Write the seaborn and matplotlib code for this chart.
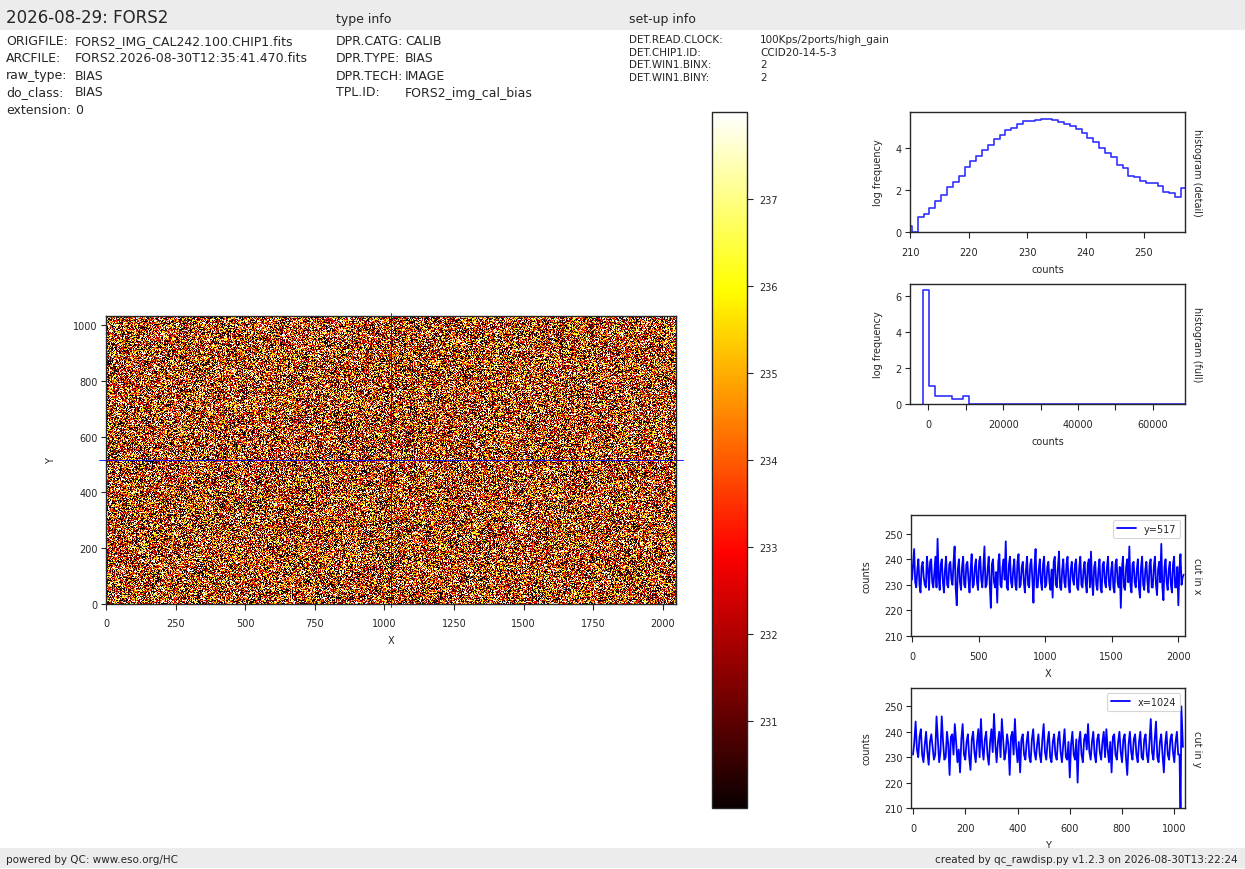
import numpy as np
import pandas as pd
import matplotlib
matplotlib.use("Agg")
import matplotlib.pyplot as plt
from matplotlib.patches import Rectangle
import seaborn as sns

# ---------------- header / footer text ----------------
title = "2026-08-29: FORS2"
file_keys = ["ORIGFILE:", "ARCFILE:", "raw_type:", "do_class:", "extension:"]
file_vals = ["FORS2_IMG_CAL242.100.CHIP1.fits", "FORS2.2026-08-30T12:35:41.470.fits",
             "BIAS", "BIAS", "0"]
type_title = "type info"
type_keys = ["DPR.CATG:", "DPR.TYPE:", "DPR.TECH:", "TPL.ID:"]
type_vals = ["CALIB", "BIAS", "IMAGE", "FORS2_img_cal_bias"]
setup_title = "set-up info"
setup_keys = ["DET.READ.CLOCK:", "DET.CHIP1.ID:", "DET.WIN1.BINX:", "DET.WIN1.BINY:"]
setup_vals = ["100Kps/2ports/high_gain", "CCID20-14-5-3", "2", "2"]
footer_left = "powered by QC: www.eso.org/HC"
footer_right = "created by qc_rawdisp.py v1.2.3 on 2026-08-30T13:22:24"

# ---------------- image geometry ----------------
n_x, n_y = 2048, 1034
cut_row, cut_col = 517, 1024
clim = (230, 238)
cbar_ticks = [231, 232, 233, 234, 235, 236, 237]

# ---------------- histogram (detail): log10 frequency per 1-count bin ----------------
detail_first_edge = 209.32
detail_logfreq = [0.30, 0.00, 0.70, 0.85, 1.13, 1.49, 1.74, 2.12, 2.38, 2.65,
                  3.06, 3.34, 3.62, 3.86, 4.14, 4.42, 4.60, 4.82, 4.94, 5.11,
                  5.25, 5.27, 5.32, 5.36, 5.33, 5.30, 5.22, 5.13, 5.04, 4.86,
                  4.71, 4.47, 4.28, 4.00, 3.76, 3.53, 3.17, 3.03, 2.64, 2.59,
                  2.40, 2.31, 2.31, 2.18, 1.91, 1.84, 1.65, 2.07]

# ---------------- histogram (full): 44 bins from -1345 to 65535 ----------------
full_first_edge, full_last_edge = -1345, 65535
full_logfreq = [6.33, 1.00, 0.45, 0.45, 0.45, 0.28, 0.28, 0.45] + [0.0] * 36

# ---------------- cut along row y=517: samples at X = 0,16,32,... and 8,24,40,... ----------------
cut_x_step = 16
cut_x_vals = [232, 244, 229, 240, 227, 239, 230, 241, 228, 240, 229, 241, 248, 228, 240, 227,
              241, 229, 239, 230, 245, 222, 240, 228, 241, 229, 239, 227, 242, 230, 240, 228,
              241, 229, 245, 230, 241, 221, 240, 229, 223, 242, 229, 240, 247, 228, 241, 229,
              240, 228, 242, 230, 239, 227, 241, 229, 240, 223, 244, 229, 240, 228, 241, 230,
              239, 228, 225, 241, 229, 243, 228, 240, 229, 241, 227, 239, 230, 240, 228, 241,
              229, 239, 227, 240, 243, 226, 239, 228, 240, 227, 239, 229, 241, 228, 239, 227,
              240, 229, 221, 241, 228, 240, 245, 227, 239, 229, 240, 225, 241, 228, 239, 227,
              240, 229, 241, 226, 239, 246, 224, 240, 228, 239, 227, 241, 229, 222, 242, 233]
cut_x_mid_vals = [238, 231, 236, 230, 237, 233, 229, 236, 239, 231, 235, 229, 233, 238, 231, 236,
                  230, 238, 232, 239, 229, 236, 231, 237, 230, 238, 232, 236, 229, 237, 231, 239,
                  232, 237, 229, 236, 230, 238, 231, 235, 239, 230, 237, 232, 229, 238, 231, 236,
                  230, 239, 229, 237, 231, 236, 230, 238, 232, 237, 229, 236, 231, 238, 229, 237,
                  231, 236, 239, 230, 237, 229, 236, 231, 238, 230, 236, 232, 238, 229, 237, 230,
                  236, 231, 238, 229, 231, 237, 230, 236, 229, 238, 231, 237, 230, 236, 229, 238,
                  231, 237, 236, 229, 237, 231, 230, 238, 231, 236, 229, 237, 230, 236, 231, 238,
                  229, 237, 230, 236, 231, 229, 237, 231, 236, 230, 238, 229, 237, 236, 230, 234]

# ---------------- cut along column x=1024: samples at Y = 0,10,... and 5,15,... + last rows ----------------
cut_y_step = 10
cut_y_vals = [231, 244, 230, 241, 228, 240, 227, 239, 229, 246, 228, 246, 229, 240, 223, 239,
              243, 228, 224, 243, 229, 239, 225, 240, 228, 241, 245, 229, 240, 227, 241, 247,
              228, 240, 245, 229, 239, 223, 240, 245, 228, 224, 239, 229, 240, 228, 241, 229,
              239, 228, 243, 229, 240, 228, 239, 229, 240, 228, 241, 229, 222, 240, 229, 220,
              240, 228, 239, 243, 229, 240, 228, 239, 229, 240, 241, 228, 224, 239, 229, 240,
              228, 239, 223, 240, 229, 239, 228, 240, 229, 239, 228, 245, 229, 244, 228, 239,
              224, 240, 229, 239, 228, 240, 231]
cut_y_mid_vals = [236, 233, 238, 231, 235, 232, 236, 234, 231, 237, 232, 236, 230, 235, 238, 231,
                  236, 233, 237, 231, 236, 230, 237, 232, 236, 230, 234, 237, 231, 236, 232, 235,
                  236, 230, 237, 232, 235, 238, 231, 234, 236, 237, 231, 236, 230, 237, 232, 235,
                  231, 237, 232, 236, 230, 236, 231, 237, 232, 235, 230, 236, 235, 231, 237, 236,
                  231, 237, 233, 232, 236, 231, 237, 232, 236, 230, 233, 236, 238, 231, 236, 232,
                  237, 230, 235, 232, 237, 231, 236, 230, 237, 231, 236, 232, 237, 230, 236, 231,
                  235, 231, 237, 232, 236, 231]
cut_y_tail_pos = [1024, 1027, 1033]
cut_y_tail_vals = [205, 250, 234]

# ---------------- style ----------------
sns.set_theme(style="ticks", context="paper")
plt.rcParams.update({
    "font.family": ["DejaVu Sans"],
    "axes.labelsize": 7, "xtick.labelsize": 7, "ytick.labelsize": 7,
    "legend.fontsize": 7,
    "xtick.major.size": 4, "ytick.major.size": 3.5,
    "xtick.major.width": 0.8, "ytick.major.width": 0.8,
    "xtick.major.pad": 6.5, "ytick.major.pad": 2.5,
    "axes.linewidth": 1.0,
    "axes.edgecolor": "0.15",
})

W, H = 1245, 870
fig = plt.figure(figsize=(W / 100, H / 100), dpi=100)


def box(l, t, r, b):
    return [l / W, 1 - b / H, (r - l) / W, (b - t) / H]


# bands
fig.patches.append(Rectangle((0, 1 - 31 / H), 1, 31 / H, transform=fig.transFigure,
                             facecolor="#ececec", edgecolor="none", zorder=0))
fig.patches.append(Rectangle((0, 1 - 869 / H), 1, 20 / H, transform=fig.transFigure,
                             facecolor="#ececec", edgecolor="none", zorder=0))

# header text
fig.text(6 / W, 1 - 18 / H, title, fontsize=12, va="center", ha="left")
fig.text(336 / W, 1 - 19 / H, type_title, fontsize=9, va="center", ha="left")
fig.text(629 / W, 1 - 19 / H, setup_title, fontsize=9, va="center", ha="left")
row_y = [41.5, 58.5, 76, 93, 110]
for k, v, y in zip(file_keys, file_vals, row_y):
    fig.text(6 / W, 1 - y / H, k, fontsize=9, va="center")
    fig.text(75 / W, 1 - y / H, v, fontsize=9, va="center")
for k, v, y in zip(type_keys, type_vals, row_y):
    fig.text(336 / W, 1 - y / H, k, fontsize=9, va="center")
    fig.text(405 / W, 1 - y / H, v, fontsize=9, va="center")
setup_y = [40, 52.5, 65, 78]
for k, v, y in zip(setup_keys, setup_vals, setup_y):
    fig.text(629 / W, 1 - y / H, k, fontsize=7.5, va="center")
    fig.text(760 / W, 1 - y / H, v, fontsize=7.5, va="center")
fig.text(6 / W, 1 - 860 / H, footer_left, fontsize=7.5, va="center", ha="left")
fig.text(1238 / W, 1 - 860 / H, footer_right, fontsize=7.5, va="center", ha="right")

# ---------------- image (pixel texture drawn from the read detail histogram) ----------------
levels = np.ceil(detail_first_edge + np.arange(len(detail_logfreq)))
weights = np.power(10.0, detail_logfreq)
weights[np.array(detail_logfreq) == 0] = 0
rng = np.random.default_rng(3)
img = rng.choice(levels, size=(n_y, n_x), p=weights / weights.sum())

ax_img = fig.add_axes(box(106, 317, 676, 605))
im = ax_img.imshow(img, cmap="hot", vmin=clim[0], vmax=clim[1], origin="lower",
                   extent=(-0.5, n_x - 0.5, -0.5, n_y - 0.5), interpolation="nearest",
                   aspect="equal")
ext = 0.012
ax_img.plot([-ext * n_x, (1 + ext) * n_x], [cut_row, cut_row], color="blue", lw=0.6, clip_on=False)
ax_img.plot([cut_col, cut_col], [-ext * n_y, (1 + ext) * n_y], color="blue", lw=0.6, clip_on=False)
ax_img.set_xlim(-0.5, n_x - 0.5)
ax_img.set_ylim(-0.5, n_y - 0.5)
ax_img.set_xticks(range(0, 2001, 250))
ax_img.set_yticks(range(0, 1001, 200))
ax_img.set_xlabel("X", labelpad=5)
ax_img.set_ylabel("Y", labelpad=12)

cax = fig.add_axes(box(712, 113, 747, 809))
cb = fig.colorbar(im, cax=cax, ticks=cbar_ticks)
cb.outline.set_linewidth(1.0)
cax.tick_params(labelsize=7, length=4.5, pad=4)

blue_hist = (0.1, 0.1, 1.0, 0.9)


def right_label(ax, txt):
    ax.text(1.025, 0.5, txt, rotation=270, transform=ax.transAxes, va="center",
            ha="left", fontsize=7, color="0.15")


# ---------------- detail histogram ----------------
d_edges = detail_first_edge + np.arange(len(detail_logfreq) + 1)
d_df = pd.DataFrame({"counts": np.concatenate([[d_edges[0]], d_edges]),
                     "logf": np.concatenate([[0], detail_logfreq, [detail_logfreq[-1]]])})
ax_d = fig.add_axes(box(910, 113, 1185, 233))
sns.lineplot(data=d_df, x="counts", y="logf", ax=ax_d, sort=False, estimator=None,
             drawstyle="steps-post", color=blue_hist, lw=1.2)
ax_d.set_xlim(210, 257)
ax_d.set_ylim(0, max(detail_logfreq) * 1.06)
ax_d.set_xticks([210, 220, 230, 240, 250])
ax_d.set_yticks([0, 2, 4])
ax_d.set_xlabel("counts", labelpad=5)
ax_d.set_ylabel("log frequency", labelpad=9)
right_label(ax_d, "histogram (detail)")

# ---------------- full histogram ----------------
f_xlim = (-4924, 68610)
f_edges = np.linspace(full_first_edge, full_last_edge, len(full_logfreq) + 1)
f_df = pd.DataFrame({"counts": np.concatenate([[f_edges[0]], f_edges, [f_xlim[1]]]),
                     "logf": np.concatenate([[0], full_logfreq, [full_logfreq[-1]], [0]])})
ax_f = fig.add_axes(box(910, 285, 1185, 405))
sns.lineplot(data=f_df, x="counts", y="logf", ax=ax_f, sort=False, estimator=None,
             drawstyle="steps-post", color=blue_hist, lw=1.2)
ax_f.set_xlim(*f_xlim)
ax_f.set_ylim(0, max(full_logfreq) * 1.056)
ax_f.set_xticks(range(0, 60001, 10000))
ax_f.set_xticklabels([str(t) if t % 20000 == 0 else "" for t in range(0, 60001, 10000)])
ax_f.set_yticks([0, 2, 4, 6])
ax_f.set_xlabel("counts", labelpad=5)
ax_f.set_ylabel("log frequency", labelpad=9)
right_label(ax_f, "histogram (full)")

# ---------------- cut in x ----------------
cx_df = pd.DataFrame({
    "X": np.concatenate([np.arange(len(cut_x_vals)) * cut_x_step,
                         np.arange(len(cut_x_mid_vals)) * cut_x_step + cut_x_step // 2]),
    "counts": cut_x_vals + cut_x_mid_vals}).sort_values("X")
ax_cx = fig.add_axes(box(911, 516, 1185, 637))
sns.lineplot(data=cx_df, x="X", y="counts", ax=ax_cx, sort=False, estimator=None,
             color="blue", lw=1.3, label=f"y={cut_row}")
ax_cx.set_xlim(-7.5, 2050)
ax_cx.set_ylim(210, 257.3)
ax_cx.set_xticks(range(0, 2001, 500))
ax_cx.set_yticks(range(210, 251, 10))
ax_cx.set_xlabel("X", labelpad=5)
ax_cx.set_ylabel("counts", labelpad=9)
ax_cx.legend(loc="upper right", fontsize=7)
right_label(ax_cx, "cut in x")

# ---------------- cut in y ----------------
cy_df = pd.DataFrame({
    "Y": np.concatenate([np.arange(len(cut_y_vals)) * cut_y_step,
                         np.arange(len(cut_y_mid_vals)) * cut_y_step + cut_y_step // 2,
                         cut_y_tail_pos]),
    "counts": cut_y_vals + cut_y_mid_vals + cut_y_tail_vals}).sort_values("Y")
ax_cy = fig.add_axes(box(911, 689, 1185, 809))
sns.lineplot(data=cy_df, x="Y", y="counts", ax=ax_cy, sort=False, estimator=None,
             color="blue", lw=1.3, label=f"x={cut_col}")
ax_cy.set_xlim(-7.7, 1041)
ax_cy.set_ylim(210, 257.2)
ax_cy.set_xticks(range(0, 1001, 200))
ax_cy.set_yticks(range(210, 251, 10))
ax_cy.set_xlabel("Y", labelpad=5)
ax_cy.set_ylabel("counts", labelpad=9)
ax_cy.legend(loc="upper right", fontsize=7)
right_label(ax_cy, "cut in y")

for a in [ax_d, ax_f, ax_cx, ax_cy]:
    for s in a.spines.values():
        s.set_visible(True)

fig.savefig("out.png", dpi=100)
